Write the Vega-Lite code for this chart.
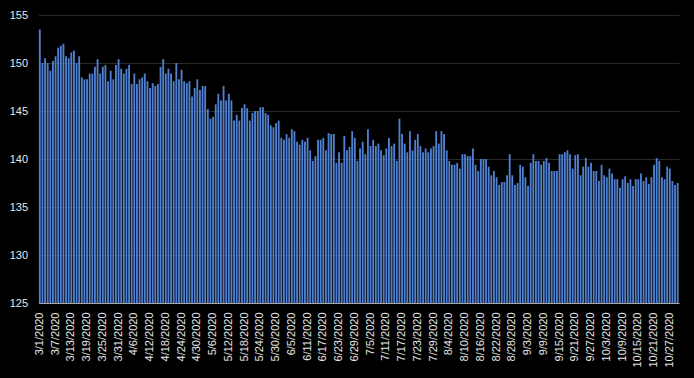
{
  "$schema": "https://vega.github.io/schema/vega-lite/v6.json",
  "width": 640.5,
  "height": 288,
  "autosize": "none",
  "padding": {"left": 38.5, "top": 15, "right": 15, "bottom": 75},
  "background": "#000000",
  "config": {
    "view": {"stroke": null},
    "axis": {"labelFont": "Liberation Sans", "labelFontSize": 11, "labelColor": "#e6e6e6"}
  },
  "datasets": {
    "daily": [
      {"d":"3/1/2020","v":153.5},{"d":"3/2/2020","v":150.0},{"d":"3/3/2020","v":150.5},{"d":"3/4/2020","v":150.0},{"d":"3/5/2020","v":149.2},{"d":"3/6/2020","v":150.2},{"d":"3/7/2020","v":150.7},{"d":"3/8/2020","v":151.6},{"d":"3/9/2020","v":151.8},{"d":"3/10/2020","v":152.0},
      {"d":"3/11/2020","v":150.7},{"d":"3/12/2020","v":150.5},{"d":"3/13/2020","v":151.1},{"d":"3/14/2020","v":151.3},{"d":"3/15/2020","v":150.0},{"d":"3/16/2020","v":150.7},{"d":"3/17/2020","v":148.5},{"d":"3/18/2020","v":148.3},{"d":"3/19/2020","v":148.3},{"d":"3/20/2020","v":148.9},
      {"d":"3/21/2020","v":148.9},{"d":"3/22/2020","v":149.6},{"d":"3/23/2020","v":150.4},{"d":"3/24/2020","v":148.9},{"d":"3/25/2020","v":149.6},{"d":"3/26/2020","v":149.8},{"d":"3/27/2020","v":148.1},{"d":"3/28/2020","v":149.2},{"d":"3/29/2020","v":148.3},{"d":"3/30/2020","v":149.8},
      {"d":"3/31/2020","v":150.4},{"d":"4/1/2020","v":149.4},{"d":"4/2/2020","v":148.9},{"d":"4/3/2020","v":149.4},{"d":"4/4/2020","v":149.8},{"d":"4/5/2020","v":147.8},{"d":"4/6/2020","v":148.9},{"d":"4/7/2020","v":147.8},{"d":"4/8/2020","v":148.3},{"d":"4/9/2020","v":148.5},
      {"d":"4/10/2020","v":148.9},{"d":"4/11/2020","v":148.1},{"d":"4/12/2020","v":147.4},{"d":"4/13/2020","v":147.9},{"d":"4/14/2020","v":147.6},{"d":"4/15/2020","v":147.8},{"d":"4/16/2020","v":149.6},{"d":"4/17/2020","v":150.4},{"d":"4/18/2020","v":148.9},{"d":"4/19/2020","v":149.4},
      {"d":"4/20/2020","v":148.9},{"d":"4/21/2020","v":148.1},{"d":"4/22/2020","v":150.0},{"d":"4/23/2020","v":148.3},{"d":"4/24/2020","v":149.3},{"d":"4/25/2020","v":148.1},{"d":"4/26/2020","v":147.9},{"d":"4/27/2020","v":148.1},{"d":"4/28/2020","v":146.5},{"d":"4/29/2020","v":147.4},
      {"d":"4/30/2020","v":148.3},{"d":"5/1/2020","v":147.2},{"d":"5/2/2020","v":147.6},{"d":"5/3/2020","v":147.6},{"d":"5/4/2020","v":145.2},{"d":"5/5/2020","v":144.2},{"d":"5/6/2020","v":144.4},{"d":"5/7/2020","v":145.7},{"d":"5/8/2020","v":146.8},{"d":"5/9/2020","v":146.1},
      {"d":"5/10/2020","v":147.6},{"d":"5/11/2020","v":146.1},{"d":"5/12/2020","v":146.8},{"d":"5/13/2020","v":146.1},{"d":"5/14/2020","v":144.0},{"d":"5/15/2020","v":144.6},{"d":"5/16/2020","v":144.0},{"d":"5/17/2020","v":145.3},{"d":"5/18/2020","v":145.7},{"d":"5/19/2020","v":145.3},
      {"d":"5/20/2020","v":144.0},{"d":"5/21/2020","v":144.8},{"d":"5/22/2020","v":145.0},{"d":"5/23/2020","v":145.0},{"d":"5/24/2020","v":145.4},{"d":"5/25/2020","v":145.4},{"d":"5/26/2020","v":144.8},{"d":"5/27/2020","v":144.6},{"d":"5/28/2020","v":143.5},{"d":"5/29/2020","v":143.3},
      {"d":"5/30/2020","v":143.75},{"d":"5/31/2020","v":144.0},{"d":"6/1/2020","v":142.2},{"d":"6/2/2020","v":142.0},{"d":"6/3/2020","v":142.6},{"d":"6/4/2020","v":142.2},{"d":"6/5/2020","v":143.1},{"d":"6/6/2020","v":142.9},{"d":"6/7/2020","v":141.8},{"d":"6/8/2020","v":141.5},
      {"d":"6/9/2020","v":142.0},{"d":"6/10/2020","v":141.8},{"d":"6/11/2020","v":142.2},{"d":"6/12/2020","v":140.9},{"d":"6/13/2020","v":139.8},{"d":"6/14/2020","v":140.3},{"d":"6/15/2020","v":142.0},{"d":"6/16/2020","v":142.0},{"d":"6/17/2020","v":142.2},{"d":"6/18/2020","v":140.9},
      {"d":"6/19/2020","v":142.7},{"d":"6/20/2020","v":142.6},{"d":"6/21/2020","v":142.6},{"d":"6/22/2020","v":139.6},{"d":"6/23/2020","v":140.7},{"d":"6/24/2020","v":139.6},{"d":"6/25/2020","v":142.4},{"d":"6/26/2020","v":140.9},{"d":"6/27/2020","v":141.25},{"d":"6/28/2020","v":142.9},
      {"d":"6/29/2020","v":142.2},{"d":"6/30/2020","v":139.8},{"d":"7/1/2020","v":141.1},{"d":"7/2/2020","v":141.8},{"d":"7/3/2020","v":140.5},{"d":"7/4/2020","v":143.1},{"d":"7/5/2020","v":141.35},{"d":"7/6/2020","v":142.0},{"d":"7/7/2020","v":141.35},{"d":"7/8/2020","v":141.6},
      {"d":"7/9/2020","v":140.9},{"d":"7/10/2020","v":140.4},{"d":"7/11/2020","v":141.1},{"d":"7/12/2020","v":142.2},{"d":"7/13/2020","v":141.35},{"d":"7/14/2020","v":141.6},{"d":"7/15/2020","v":139.8},{"d":"7/16/2020","v":144.2},{"d":"7/17/2020","v":142.6},{"d":"7/18/2020","v":141.6},
      {"d":"7/19/2020","v":140.7},{"d":"7/20/2020","v":142.9},{"d":"7/21/2020","v":140.9},{"d":"7/22/2020","v":142.0},{"d":"7/23/2020","v":142.6},{"d":"7/24/2020","v":141.35},{"d":"7/25/2020","v":140.7},{"d":"7/26/2020","v":141.1},{"d":"7/27/2020","v":140.7},{"d":"7/28/2020","v":141.1},
      {"d":"7/29/2020","v":141.35},{"d":"7/30/2020","v":142.9},{"d":"7/31/2020","v":141.6},{"d":"8/1/2020","v":142.9},{"d":"8/2/2020","v":142.6},{"d":"8/3/2020","v":140.9},{"d":"8/4/2020","v":139.8},{"d":"8/5/2020","v":139.4},{"d":"8/6/2020","v":139.4},{"d":"8/7/2020","v":139.6},
      {"d":"8/8/2020","v":139.0},{"d":"8/9/2020","v":140.5},{"d":"8/10/2020","v":140.5},{"d":"8/11/2020","v":140.3},{"d":"8/12/2020","v":140.3},{"d":"8/13/2020","v":141.1},{"d":"8/14/2020","v":139.4},{"d":"8/15/2020","v":138.75},{"d":"8/16/2020","v":140.0},{"d":"8/17/2020","v":140.0},
      {"d":"8/18/2020","v":140.0},{"d":"8/19/2020","v":139.2},{"d":"8/20/2020","v":138.3},{"d":"8/21/2020","v":138.75},{"d":"8/22/2020","v":138.1},{"d":"8/23/2020","v":137.3},{"d":"8/24/2020","v":137.6},{"d":"8/25/2020","v":137.6},{"d":"8/26/2020","v":138.3},{"d":"8/27/2020","v":140.5},
      {"d":"8/28/2020","v":138.3},{"d":"8/29/2020","v":137.3},{"d":"8/30/2020","v":137.5},{"d":"8/31/2020","v":139.4},{"d":"9/1/2020","v":139.2},{"d":"9/2/2020","v":138.1},{"d":"9/3/2020","v":137.2},{"d":"9/4/2020","v":139.6},{"d":"9/5/2020","v":140.5},{"d":"9/6/2020","v":139.8},
      {"d":"9/7/2020","v":139.8},{"d":"9/8/2020","v":139.4},{"d":"9/9/2020","v":139.8},{"d":"9/10/2020","v":140.1},{"d":"9/11/2020","v":139.6},{"d":"9/12/2020","v":138.75},{"d":"9/13/2020","v":138.75},{"d":"9/14/2020","v":138.75},{"d":"9/15/2020","v":140.5},{"d":"9/16/2020","v":140.5},
      {"d":"9/17/2020","v":140.7},{"d":"9/18/2020","v":140.9},{"d":"9/19/2020","v":140.5},{"d":"9/20/2020","v":139.0},{"d":"9/21/2020","v":140.4},{"d":"9/22/2020","v":140.5},{"d":"9/23/2020","v":138.3},{"d":"9/24/2020","v":139.2},{"d":"9/25/2020","v":140.1},{"d":"9/26/2020","v":139.2},
      {"d":"9/27/2020","v":139.6},{"d":"9/28/2020","v":138.75},{"d":"9/29/2020","v":138.75},{"d":"9/30/2020","v":137.7},{"d":"10/1/2020","v":139.4},{"d":"10/2/2020","v":138.3},{"d":"10/3/2020","v":138.1},{"d":"10/4/2020","v":139.0},{"d":"10/5/2020","v":138.5},{"d":"10/6/2020","v":137.9},
      {"d":"10/7/2020","v":137.9},{"d":"10/8/2020","v":137.0},{"d":"10/9/2020","v":137.9},{"d":"10/10/2020","v":138.2},{"d":"10/11/2020","v":137.5},{"d":"10/12/2020","v":137.9},{"d":"10/13/2020","v":137.2},{"d":"10/14/2020","v":137.9},{"d":"10/15/2020","v":137.9},{"d":"10/16/2020","v":138.5},
      {"d":"10/17/2020","v":137.7},{"d":"10/18/2020","v":138.1},{"d":"10/19/2020","v":137.4},{"d":"10/20/2020","v":138.1},{"d":"10/21/2020","v":139.4},{"d":"10/22/2020","v":140.1},{"d":"10/23/2020","v":139.8},{"d":"10/24/2020","v":138.1},{"d":"10/25/2020","v":137.9},{"d":"10/26/2020","v":139.2},
      {"d":"10/27/2020","v":139.0},{"d":"10/28/2020","v":137.7},{"d":"10/29/2020","v":137.3},{"d":"10/30/2020","v":137.5}
    ]
  },
  "data": {"name": "daily"},
  "mark": {"type": "bar", "color": "#5080d0"},
  "encoding": {
    "x": {
      "field": "d",
      "type": "ordinal",
      "sort": null,
      "title": null,
      "scale": {"paddingInner": 0.3, "paddingOuter": 0.15},
      "axis": {
        "values": ["3/1/2020","3/7/2020","3/13/2020","3/19/2020","3/25/2020","3/31/2020","4/6/2020","4/12/2020","4/18/2020","4/24/2020","4/30/2020","5/6/2020","5/12/2020","5/18/2020","5/24/2020","5/30/2020","6/5/2020","6/11/2020","6/17/2020","6/23/2020","6/29/2020","7/5/2020","7/11/2020","7/17/2020","7/23/2020","7/29/2020","8/4/2020","8/10/2020","8/16/2020","8/22/2020","8/28/2020","9/3/2020","9/9/2020","9/15/2020","9/21/2020","9/27/2020","10/3/2020","10/9/2020","10/15/2020","10/21/2020","10/27/2020"],
        "labelAngle": 270,
        "labelAlign": "right",
        "labelBaseline": "middle",
        "labelPadding": 9,
        "labelOverlap": false,
        "ticks": false,
        "domainColor": "#a6a6a6",
        "domainWidth": 1,
        "grid": false
      }
    },
    "y": {
      "field": "v",
      "type": "quantitative",
      "title": null,
      "scale": {"domain": [125, 155], "zero": false, "nice": false},
      "axis": {
        "values": [125, 130, 135, 140, 145, 150, 155],
        "ticks": false,
        "domain": false,
        "grid": true,
        "gridColor": "#2a2a2a",
        "gridWidth": 1,
        "labelPadding": 11
      }
    },
    "y2": {"datum": 125}
  }
}
